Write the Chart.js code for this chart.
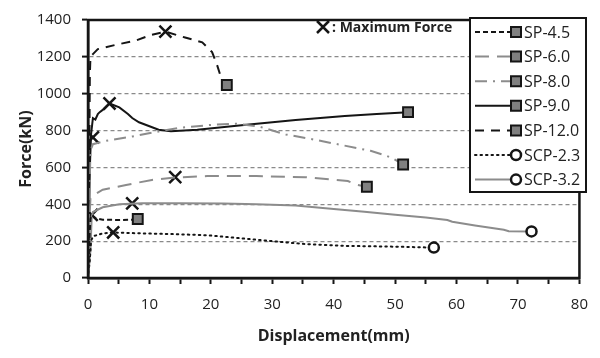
<!DOCTYPE html>
<html>
<head>
<meta charset="utf-8">
<script src="https://cdn.jsdelivr.net/npm/chart.js@4.4.0/dist/chart.umd.min.js"></script>
<style>
  html, body { margin: 0; padding: 0; background: #fff; }
</style>
</head>
<body>
<canvas id="GraficoForca" width="600" height="358"></canvas>
<script>
// Displacement (mm) / Force (kN)
var dispSP45 = [0, 0.2, 0.4, 0.6, 1.2, 2.4, 5, 7.2, 8.1];
var forcaSP45 = [0, 200, 320, 342, 325, 316, 315, 316, 320];

var dispSP60 = [0, 0.2, 0.4, 0.8, 2.4, 6.2, 10.4, 14.2, 19.4, 27.4, 35.4, 42.3, 43.8, 45.4];
var forcaSP60 = [0, 300, 430, 447, 479, 505, 532, 545, 553, 553, 547, 526, 505, 495];

var dispSP80 = [0, 0.2, 0.4, 0.8, 3, 7.2, 11.5, 15.1, 20.5, 24.2, 27.9, 32.2, 36.5, 41.5, 46, 48.6, 49.7, 51.3];
var forcaSP80 = [0, 400, 690, 726, 745, 768, 795, 816, 832, 837, 821, 779, 753, 720, 690, 663, 647, 616];

var dispSP90 = [0, 0.3, 0.5, 0.8, 1.2, 1.6, 1.9, 2.5, 3.5, 5.1, 6.5, 7.2, 8.3, 9.9, 11.5, 13.5, 17.8, 25.8, 33.8, 41.8, 47, 52.1];
var forcaSP90 = [0, 600, 780, 868, 860, 890, 900, 915, 947, 926, 890, 868, 845, 825, 805, 796, 805, 832, 858, 879, 890, 900];

var dispSP120 = [0, 0.2, 0.3, 0.4, 0.8, 1.6, 4.5, 7.8, 10.4, 12.6, 15.8, 18.6, 20.2, 21.0, 21.5, 22.6];
var forcaSP120 = [0, 600, 1100, 1200, 1215, 1242, 1265, 1289, 1320, 1337, 1305, 1279, 1226, 1157, 1105, 1047];

var dispSCP23 = [0, 0.3, 0.5, 0.8, 2.4, 4.1, 8.8, 14, 19.4, 24.7, 30, 35.4, 42.2, 50, 55, 56.3];
var forcaSCP23 = [0, 100, 200, 226, 242, 247, 242, 238, 232, 216, 200, 184, 174, 170, 166, 165];

var dispSCP32 = [0, 0.4, 0.6, 0.8, 2.4, 5.1, 8.8, 15, 22, 27.4, 33.8, 40, 45, 50, 55, 58.5, 59.3, 63, 67.7, 68.5, 72.2];
var forcaSCP32 = [0, 150, 330, 358, 384, 400, 405, 406, 404, 400, 394, 374, 360, 343, 328, 315, 305, 285, 262, 254, 253];

// Maximum force points
var dispMax = [0.6, 0.8, 3.5, 4.1, 7.2, 12.6, 14.2];
var forcaMax = [342, 763, 947, 247, 405, 1337, 547];

var xTicks = [0, 10, 20, 30, 40, 50, 60, 70, 80];
var yTicks = [0, 200, 400, 600, 800, 1000, 1200, 1400];

var fonte = "'Open Sans', 'Noto Sans', sans-serif";
var preto = '#151515';
var cinza = '#8c8c8c';

function Pontos(xs, ys) {
    return xs.map(function (x, i) { return { x: x, y: ys[i] }; });
}

function Serie(nome, xs, ys, cor, traco, marca) {
    var n = xs.length;
    var quadrado = marca === 'rect';
    var s = {
        label: nome,
        data: Pontos(xs, ys),
        showLine: true,
        borderColor: cor,
        borderWidth: 2,
        borderDash: traco,
        tension: 0,
        fill: false,
        pointStyle: marca,
        pointRadius: function (ctx) { return ctx.dataIndex === n - 1 ? (quadrado ? 7 : 5) : 0; },
        pointHoverRadius: 0,
        pointBackgroundColor: quadrado ? '#808080' : '#ffffff',
        pointBorderColor: preto,
        pointBorderWidth: quadrado ? 2 : 2.5
    };
    if (traco.length && traco[0] <= 2) s.borderCapStyle = 'round';
    return s;
}

var series = [
    Serie('SP-4.5', dispSP45, forcaSP45, preto, [5, 3], 'rect'),
    Serie('SP-6.0', dispSP60, forcaSP60, cinza, [14, 8], 'rect'),
    Serie('SP-8.0', dispSP80, forcaSP80, cinza, [12, 6, 2, 6], 'rect'),
    Serie('SP-9.0', dispSP90, forcaSP90, preto, [], 'rect'),
    Serie('SP-12.0', dispSP120, forcaSP120, preto, [9, 7], 'rect'),
    Serie('SCP-2.3', dispSCP23, forcaSCP23, preto, [1.5, 4], 'circle'),
    Serie('SCP-3.2', dispSCP32, forcaSCP32, cinza, [], 'circle')
];

var maximos = {
    label: 'max',
    data: Pontos(dispMax, forcaMax),
    showLine: false,
    pointStyle: 'crossRot',
    pointRadius: 8.5,
    pointHoverRadius: 8.5,
    pointBorderColor: preto,
    pointBorderWidth: 2.5
};

function DesenharMarca(ctx, estilo, x, y) {
    ctx.save();
    ctx.setLineDash([]);
    ctx.lineWidth = estilo === 'rect' ? 2 : 2.5;
    ctx.strokeStyle = preto;
    ctx.beginPath();
    if (estilo === 'rect') {
        ctx.fillStyle = '#808080';
        ctx.rect(x - 5, y - 5, 10, 10);
    } else {
        ctx.fillStyle = '#ffffff';
        ctx.arc(x, y, 5, 0, Math.PI * 2);
    }
    ctx.fill();
    ctx.stroke();
    ctx.restore();
}

var moldura = {
    id: 'moldura',
    afterDraw: function (chart) {
        var ctx = chart.ctx;
        var a = chart.chartArea;
        ctx.save();
        ctx.setLineDash([]);
        ctx.strokeStyle = preto;
        ctx.lineWidth = 2.5;
        ctx.strokeRect(a.left, a.top, a.right - a.left, a.bottom - a.top);

        // maximum force note
        ctx.beginPath();
        ctx.moveTo(317, 21); ctx.lineTo(329, 33);
        ctx.moveTo(329, 21); ctx.lineTo(317, 33);
        ctx.stroke();
        ctx.fillStyle = '#222';
        ctx.font = 'bold 14px ' + fonte;
        ctx.textBaseline = 'middle';
        ctx.textAlign = 'left';
        ctx.fillText(': Maximum Force', 332, 28);

        // legend box
        var lx = 470, ly = 18, lw = 116, lh = 174;
        ctx.fillStyle = '#ffffff';
        ctx.fillRect(lx, ly, lw, lh);
        ctx.lineWidth = 2;
        ctx.strokeRect(lx, ly, lw, lh);
        ctx.font = '16px ' + fonte;
        series.forEach(function (s, i) {
            var y = 32 + i * 24.6;
            ctx.save();
            ctx.strokeStyle = s.borderColor;
            ctx.lineWidth = 2;
            ctx.setLineDash(s.borderDash);
            ctx.lineCap = s.borderCapStyle || 'butt';
            ctx.beginPath();
            ctx.moveTo(475, y);
            ctx.lineTo(512, y);
            ctx.stroke();
            ctx.restore();
            DesenharMarca(ctx, s.pointStyle, 516, y);
            ctx.fillStyle = '#222';
            ctx.fillText(s.label, 524, y + 1);
        });
        ctx.restore();
    }
};

new Chart(document.getElementById('GraficoForca'), {
    type: 'line',
    data: { datasets: series.concat([maximos]) },
    options: {
        responsive: false,
        animation: false,
        events: [],
        layout: { padding: { top: 12, right: 10, left: 0, bottom: 0 } },
        plugins: {
            legend: { display: false },
            tooltip: { enabled: false }
        },
        scales: {
            x: {
                type: 'linear',
                min: 0,
                max: 80,
                afterFit: function (s) { s.height = 80; },
                ticks: {
                    stepSize: 5,
                    color: '#222',
                    padding: 12,
                    maxRotation: 0,
                    font: { family: fonte, size: 15 },
                    callback: function (v) { return xTicks.indexOf(v) >= 0 ? v : ''; }
                },
                grid: { color: 'transparent', tickColor: preto, tickLength: 6, tickWidth: 2 },
                border: { color: preto, width: 2.5 },
                title: {
                    display: true,
                    text: 'Displacement(mm)',
                    color: '#222',
                    font: { family: fonte, size: 16, weight: 'bold' },
                    padding: { top: 0, bottom: 12 }
                }
            },
            y: {
                type: 'linear',
                min: 0,
                max: 1400,
                afterFit: function (s) { s.width = 88; },
                ticks: {
                    stepSize: 100,
                    color: '#222',
                    padding: 11,
                    font: { family: fonte, size: 15 },
                    callback: function (v) { return yTicks.indexOf(v) >= 0 ? v : ''; }
                },
                grid: {
                    color: function (c) {
                        var v = c.tick.value;
                        return (v > 0 && v < 1400 && v % 200 === 0) ? '#8a8a8a' : 'transparent';
                    },
                    lineWidth: 1.2,
                    tickColor: preto,
                    tickLength: 6,
                    tickWidth: 2
                },
                border: { color: preto, width: 2.5, dash: [4, 3] },
                title: {
                    display: true,
                    text: 'Force(kN)',
                    color: '#222',
                    font: { family: fonte, size: 16, weight: 'bold' },
                    padding: { top: 17, bottom: 0 }
                }
            }
        }
    },
    plugins: [moldura]
});
</script>
</body>
</html>
